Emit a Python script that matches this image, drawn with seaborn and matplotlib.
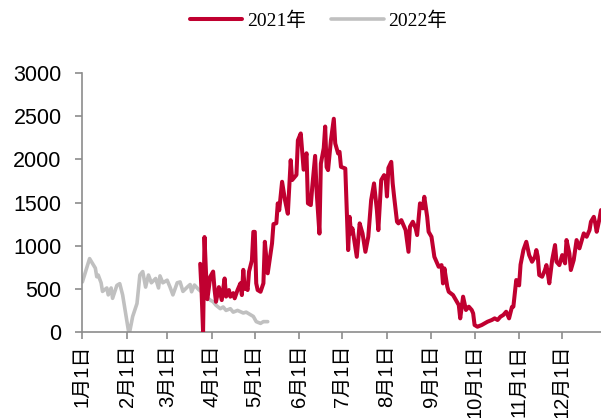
import matplotlib
matplotlib.use("Agg")
import matplotlib.pyplot as plt
from matplotlib.font_manager import FontProperties
import pandas as pd
import seaborn as sns

# Day-of-year offsets (0 = 1 Jan) and daily values for each year
days_2022 = [0, 5, 9, 10, 11, 13, 14, 17, 18, 20, 21, 24, 26, 28, 32, 33, 35, 38,
             40, 42, 44, 46, 48, 51, 53, 54, 56, 59, 61, 63, 66, 68, 70, 73, 75,
             76, 78, 81, 83, 84, 86, 89, 91, 93, 96, 98, 100, 103, 105, 108, 112,
             114, 117, 119, 121, 124, 126, 129]
vals_2022 = [580, 850, 740, 640, 660, 570, 470, 510, 430, 510, 390, 540, 560, 430,
             20, 10, 180, 330, 660, 700, 520, 660, 570, 620, 510, 650, 570, 600,
             520, 430, 570, 580, 470, 520, 550, 466, 544, 490, 466, 390, 410, 370,
             350, 310, 270, 290, 250, 270, 230, 250, 220, 230, 200, 180, 120, 100,
             120, 120]

days_2021 = [82, 83, 84, 85, 86, 87, 89, 91, 92, 93, 95, 97, 99, 100, 102, 103,
             105, 106, 108, 110, 111, 112, 113, 114, 115, 116, 118, 119, 120, 121,
             122, 124, 126, 127, 129, 132, 133, 135, 136, 137, 139, 141, 143, 145,
             146, 149, 150, 152, 154, 156, 157, 159, 160, 162, 163, 165, 166, 168,
             169, 170, 171, 173, 175, 176, 178, 179, 180, 183, 185, 186, 187, 188,
             191, 193, 195, 197, 199, 201, 203, 205, 206, 208, 210, 211, 212, 213,
             215, 216, 217, 219, 220, 222, 224, 225, 227, 228, 230, 232, 233, 235,
             237, 238, 240, 241, 243, 245, 246, 248, 250, 251, 252, 254, 255, 258,
             260, 262, 263, 265, 266, 267, 269, 271, 272, 273, 275, 278, 280, 282,
             285, 287, 289, 291, 293, 295, 297, 299, 300, 302, 304, 305, 307, 309,
             311, 313, 315, 316, 317, 318, 320, 322, 323, 324, 325, 327, 329, 330,
             332, 334, 336, 337, 339, 340, 342, 344, 346, 347, 349, 351, 353, 354,
             356, 357, 358, 360, 361]
vals_2021 = [790, 450, 0, 1100, 700, 380, 640, 700, 490, 350, 520, 370, 620, 410,
             486, 409, 450, 390, 486, 564, 428, 720, 500, 524, 486, 700, 830, 1160,
             1160, 564, 486, 466, 564, 1045, 680, 1027, 1250, 1260, 1490, 1410,
             1740, 1530, 1370, 1990, 1760, 1820, 2220, 2300, 1880, 2070, 1490, 1470,
             1680, 2040, 1640, 1140, 1950, 2130, 2380, 1910, 1875, 2222, 2470, 2184,
             2068, 2087, 1913, 1894, 949, 1334, 1142, 1200, 871, 1258, 1142, 929,
             1103, 1528, 1721, 1412, 1180, 1759, 1817, 1800, 1570, 1900, 1971, 1721,
             1566, 1277, 1258, 1296, 1219, 1180, 929, 1219, 1277, 1200, 1123, 1490,
             1432, 1566, 1334, 1161, 1103, 871, 833, 756, 775, 563, 737, 524, 466,
             428, 370, 312, 158, 409, 332, 255, 293, 255, 216, 81, 61, 81, 100, 119,
             139, 158, 139, 177, 197, 235, 158, 290, 293, 602, 540, 780, 950, 1045,
             891, 814, 871, 949, 871, 660, 640, 718, 775, 680, 564, 833, 1007, 814,
             775, 891, 795, 1065, 911, 718, 833, 1065, 969, 1027, 1142, 1103, 1180,
             1277, 1334, 1258, 1161, 1316, 1412]

month_starts = [0, 31, 59, 90, 120, 151, 181, 212, 243, 273, 304, 334]
month_labels = ["1月1日", "2月1日", "3月1日", "4月1日", "5月1日", "6月1日",
                "7月1日", "8月1日", "9月1日", "10月1日", "11月1日", "12月1日"]
y_ticks = [0, 500, 1000, 1500, 2000, 2500, 3000]
series_names = ["2021年", "2022年"]

sns.set_style("ticks")
plt.rcParams["font.family"] = ["Liberation Sans", "Noto Sans CJK SC"]
plt.rcParams["text.color"] = "black"

RED = "#C00030"
GREY = "#C0C0C0"
AXIS = "#8C8C8C"

df21 = pd.DataFrame({"day": days_2021, "value": vals_2021})
df22 = pd.DataFrame({"day": days_2022, "value": vals_2022})

fig = plt.figure(figsize=(6.01, 4.18), dpi=100)
ax = fig.add_axes([82.4 / 601, 1 - 332 / 418, 1 - 82.4 / 601, (332 - 73) / 418])

sns.lineplot(data=df22, x="day", y="value", ax=ax, color=GREY, linewidth=2.6,
             zorder=2, label=series_names[1])
sns.lineplot(data=df21, x="day", y="value", ax=ax, color=RED, linewidth=2.9,
             zorder=3, label=series_names[0])

ax.set_xlim(0, 361)
ax.set_ylim(0, 3000)
ax.set_xlabel("")
ax.set_ylabel("")

ax.set_yticks(y_ticks)
ax.set_yticklabels([str(v) for v in y_ticks], fontsize=15.5)
ax.set_xticks(month_starts)
ax.set_xticklabels(month_labels, rotation=90, fontsize=14.5)

for side in ("top", "right"):
    ax.spines[side].set_visible(False)
for side in ("left", "bottom"):
    ax.spines[side].set_color(AXIS)
    ax.spines[side].set_linewidth(1.2)
ax.tick_params(axis="y", length=5, width=1.2, color=AXIS, pad=10, labelcolor="black")
ax.tick_params(axis="x", length=5, width=1.2, color=AXIS, pad=4, labelcolor="black")

handles, labels = ax.get_legend_handles_labels()
order = [labels.index(n) for n in series_names]
ax.get_legend().remove()
fig.legend([handles[i] for i in order], [labels[i] for i in order],
           loc="center", bbox_to_anchor=(0.53, 0.95), ncol=2, frameon=False,
           prop=FontProperties(family=["Liberation Serif", "Noto Sans CJK SC"], size=14),
           labelcolor="black",
           handlelength=2.7, handletextpad=0.25, columnspacing=1.3)

fig.savefig("out.png", dpi=100)
